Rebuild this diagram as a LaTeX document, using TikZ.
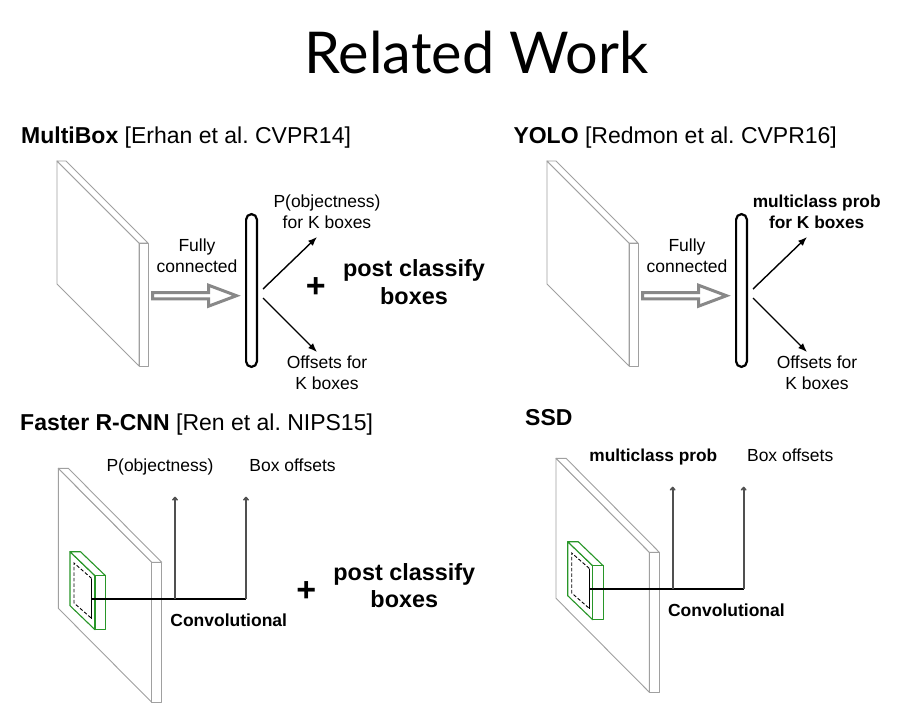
\documentclass[tikz,border=0pt]{standalone}
\usepackage{fontspec}
\setmainfont{Liberation Sans}
\newfontfamily\titlefont{Lato}
\usepackage{tikz}
\usetikzlibrary{positioning,calc,arrows,arrows.meta}
\definecolor{slabgray}{RGB}{160,160,160}
\definecolor{fcgray}{RGB}{136,136,136}
\definecolor{rfgreen}{RGB}{40,150,40}
\definecolor{linegray}{RGB}{80,80,80}
\tikzset{slabline/.style={draw=slabgray, line width=0.9pt, fill=white, line join=round}}
\tikzset{rfbox/.style={draw=rfgreen, line width=1.1pt, fill=white, line join=round}}
\tikzset{rfdash/.style={draw, line width=0.9pt, dash pattern=on 3.5pt off 2pt}}
\tikzset{rfline/.style={draw, line width=1pt}}
\tikzset{fcarrow/.style={draw=fcgray, line width=3pt, fill=white, line join=miter}}
\tikzset{vecbar/.style={draw, line width=2.2pt, rounded corners=5.4pt, minimum width=10.8pt, minimum height=152.8pt, inner sep=0pt}}
\tikzset{arr/.style={draw, -{Latex[length=9pt,width=7pt]}, line width=1.4pt}}
\tikzset{convline/.style={draw, line width=1.2pt}}
\tikzset{convarr/.style={draw=linegray, -{To[length=4pt,width=6pt]}, line width=1.6pt}}
\tikzset{lbl/.style={inner sep=0pt, align=center, font=\fontsize{17.5}{21}\selectfont}}
\tikzset{blbl/.style={lbl, font=\fontsize{17.3}{21}\selectfont\bfseries}}
\tikzset{conv/.style={inner sep=0pt, anchor=base, font=\fontsize{17.5}{21}\selectfont\bfseries}}
\tikzset{head/.style={inner sep=0pt, anchor=base west, font=\fontsize{23}{27}\selectfont}}
\tikzset{post/.style={inner sep=0pt, align=center, font=\fontsize{23.4}{27.7}\selectfont\bfseries}}
\tikzset{plus/.style={inner sep=0pt, font=\fontsize{34}{34}\selectfont\bfseries}}
% x y dx dy h t
\newcommand\slab[7][slabline]{
				\draw[#1] (#2,#3) -- ++(#4,#5) -- ++(0,#6) -- ++(-#4,-#5) -- cycle;
				\draw[#1] (#2,#3) -- ++(#7,0) -- ++(#4,#5) -- ++(-#7,0) -- cycle;
				\draw[#1] (#2+#4,#3+#5) -- ++(#7,0) -- ++(0,#6) -- ++(-#7,0) -- cycle;
				}
\newcommand\fcarrow[1]{
				\draw[fcarrow] ([yshift=3.2pt]#1) -- ++(56,0) -- ++(0,-7.3) -- ++(28,10.5)
					-- ++(-28,10.5) -- ++(0,-7.3) -- ++(-56,0) -- cycle;
				}
\newcommand\fcnet[1]{
				\slab{57}{161}{82}{82}{123}{9}
				\coordinate (fct#1) at (152.5,295.7);
				\fcarrow{fct#1}
				\node[vecbar] (vec#1) at (251.5,290.5) {};
				\coordinate (po#1) at (317,237);
				\coordinate (of#1) at (317,352);
				\draw[arr] ([xshift=5pt,yshift=1.5pt]vec#1.east) -- (po#1);
				\draw[arr] ([xshift=5pt,yshift=-7.5pt]vec#1.east) -- (of#1);
				\node[lbl] (fc#1l) at (197,255.8) {Fully\\connected};
				\node[lbl] (of#1l) at (327,372.3) {Offsets for\\K boxes};
				}
\newcommand\convnet[1]{
				\slab{58.3}{468.3}{93.4}{94}{140}{10}
				\slab[rfbox]{70}{551.7}{25}{24}{54}{10.5}
				\draw[rfdash] (91.7,578.5) -- (74,563) -- (74,603) -- (91.7,618.5);
				\draw[rfline] (91.7,578.5) -- (91.7,618.5);
				\coordinate (rf#1) at (91.7,599);
				\coordinate (jc#1) at (175,599);
				\coordinate (jb#1) at (246,599);
				\coordinate (cl#1) at (175,496.7);
				\coordinate (bo#1) at (246,496.7);
				\draw[convline] (rf#1) -- (jb#1);
				\draw[convarr] (jc#1) -- (cl#1);
				\draw[convarr] (jb#1) -- (bo#1);
				\node[lbl, anchor=base] (bo#1l) at (292.5,471.7) {Box offsets};
				\node[conv] (cv#1l) at (228.7,626.7) {Convolutional};
				}
\begin{document}
\frenchspacing
\begin{tikzpicture}[x=1pt, y=-1pt]
	\useasboundingbox (0,0) rectangle (900,710);
	\fill[white] (0,0) rectangle (900,710);
	\node[inner sep=0pt, anchor=base, font=\titlefont\fontsize{57.6}{60}\selectfont] (title) at (476.5,73.3) {Related Work};

	% MultiBox
	\node[head] (hmb) at (21,143.3) {\textbf{MultiBox} [Erhan et al. CVPR14]};
	\fcnet{1}
	\node[lbl] (po1l) at (327,212.2) {P(objectness)\\for K boxes};
	\node[plus] (pl1) at (315.8,287.2) {+};
	\node[post] (pc1) at (414,282) {post classify\\boxes};

	% YOLO
	\node[head] (hyolo) at (513.3,143.3) {\textbf{YOLO} [Redmon et al. CVPR16]};
	\begin{scope}[shift={(490,0)}]
		\fcnet{2}
		\node[blbl] (mc2l) at (326.7,211.5) {multiclass prob\\for K boxes};
	\end{scope}

	% Faster R-CNN
	\node[head] (hfr) at (20,430) {\textbf{Faster R-CNN} [Ren et al. NIPS15]};
	\convnet{3}
	\node[lbl, anchor=base] (po3l) at (160,471.7) {P(objectness)};
	\node[plus] (pl3) at (306.3,591.3) {+};
	\node[post] (pc3) at (404.3,585.7) {post classify\\boxes};

	% SSD
	\node[head] (hssd) at (525,425) {\textbf{SSD}};
	\begin{scope}[shift={(497.7,-10)}]
		\convnet{4}
		\node[blbl, anchor=base] (mc4l) at (155.6,471.7) {multiclass prob};
	\end{scope}
\end{tikzpicture}
\end{document}
